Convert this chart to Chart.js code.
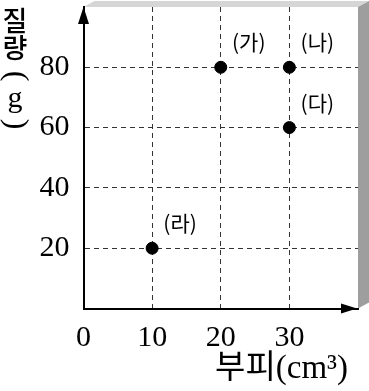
<!DOCTYPE html>
<html>
<head>
<meta charset="utf-8">
<script src="https://cdn.jsdelivr.net/npm/chart.js@4"></script>
<style>
  html, body { margin: 0; padding: 0; background: #fff; }
</style>
</head>
<body>
<canvas id="chart" width="369" height="391"></canvas>
<script>
// data
const volumes = [20, 30, 30, 10];        // 부피 (cm3)
const masses = [80, 80, 60, 20];         // 질량 (g)
const pointNames = ["(가)", "(나)", "(다)", "(라)"];
const xTickValues = [0, 10, 20, 30];
const yTickValues = [20, 40, 60, 80];

const serif = "'Liberation Serif', 'Noto Sans CJK KR', serif";
const hangul = "'Noto Sans CJK KR', sans-serif";

// gray 3D box behind the plot
const boxPlugin = {
  id: "box",
  beforeDraw(chart) {
    const { ctx, chartArea: a } = chart;
    const dx = 11, dy = 6;
    ctx.save();
    ctx.fillStyle = "#d6d6d6";
    ctx.beginPath();
    ctx.moveTo(a.left, a.top);
    ctx.lineTo(a.left + dx, a.top - dy);
    ctx.lineTo(a.right + dx, a.top - dy);
    ctx.lineTo(a.right, a.top);
    ctx.closePath();
    ctx.fill();
    ctx.fillStyle = "#9e9e9e";
    ctx.beginPath();
    ctx.moveTo(a.right, a.top);
    ctx.lineTo(a.right + dx, a.top - dy);
    ctx.lineTo(a.right + dx, a.bottom - dy);
    ctx.lineTo(a.right, a.bottom);
    ctx.closePath();
    ctx.fill();
    ctx.restore();
  }
};

// arrows, point names and the axis titles
const extrasPlugin = {
  id: "extras",
  afterDraw(chart) {
    const { ctx, chartArea: a } = chart;
    ctx.save();
    ctx.fillStyle = "#000";

    // y arrow
    ctx.beginPath();
    ctx.moveTo(a.left, a.top);
    ctx.lineTo(a.left - 5.5, a.top + 17);
    ctx.lineTo(a.left + 5.5, a.top + 17);
    ctx.closePath();
    ctx.fill();
    // x arrow
    ctx.beginPath();
    ctx.moveTo(a.right - 1, a.bottom);
    ctx.lineTo(a.right - 17, a.bottom - 5);
    ctx.lineTo(a.right - 17, a.bottom + 5);
    ctx.closePath();
    ctx.fill();

    // point names
    const meta = chart.getDatasetMeta(0);
    ctx.font = "21px " + hangul;
    ctx.textAlign = "center";
    ctx.textBaseline = "middle";
    meta.data.forEach((pt, i) => {
      ctx.fillText(pointNames[i], pt.x + 28, pt.y - 25);
    });

    // x title
    ctx.font = "33px " + serif;
    ctx.textAlign = "right";
    ctx.fillText("부피(cm³)", 348, 369);

    // y title, written top to bottom
    ctx.textAlign = "center";
    ctx.font = "500 27px " + hangul;
    ctx.fillText("질", 15, 21);
    ctx.fillText("량", 15, 48);
    ctx.font = "30px " + serif;
    ctx.fillText("g", 15, 99);
    ctx.font = "32px " + serif;
    [["(", 76], [")", 124]].forEach(([ch, y]) => {
      ctx.save();
      ctx.translate(15, y);
      ctx.rotate(Math.PI / 2);
      ctx.fillText(ch, 0, 0);
      ctx.restore();
    });
    ctx.restore();
  }
};

new Chart(document.getElementById("chart").getContext("2d"), {
  type: "scatter",
  data: {
    datasets: [{
      data: volumes.map((v, i) => ({ x: v, y: masses[i] })),
      backgroundColor: "#000",
      borderColor: "#000",
      pointRadius: 6,
      pointHoverRadius: 6
    }]
  },
  options: {
    responsive: false,
    animation: false,
    layout: { padding: { top: 6, right: 11, left: 0, bottom: 0 } },
    plugins: {
      legend: { display: false },
      tooltip: { enabled: false }
    },
    scales: {
      x: {
        min: 0,
        max: 40,
        afterFit: (s) => { s.height = 82.5; s.paddingLeft = 0; s.paddingRight = 0; },
        afterBuildTicks: (s) => { s.ticks = xTickValues.map((v) => ({ value: v })); },
        ticks: {
          color: "#000",
          padding: 12,
          font: { family: serif, size: 30 }
        },
        grid: {
          drawTicks: false,
          lineWidth: 1,
          color: (c) => (c.tick && c.tick.value > 0) ? "#333" : "rgba(0,0,0,0)"
        },
        border: { display: true, color: "#000", width: 2, dash: [5, 4] }
      },
      y: {
        min: 0,
        max: 100,
        afterFit: (s) => { s.width = 83.5; s.paddingTop = 0; s.paddingBottom = 0; },
        afterBuildTicks: (s) => { s.ticks = yTickValues.map((v) => ({ value: v })); },
        ticks: {
          color: "#000",
          padding: 14,
          font: { family: serif, size: 30 }
        },
        grid: {
          drawTicks: false,
          lineWidth: 1,
          color: "#333"
        },
        border: { display: true, color: "#000", width: 2, dash: [5, 4] }
      }
    }
  },
  plugins: [boxPlugin, extrasPlugin]
});
</script>
</body>
</html>
